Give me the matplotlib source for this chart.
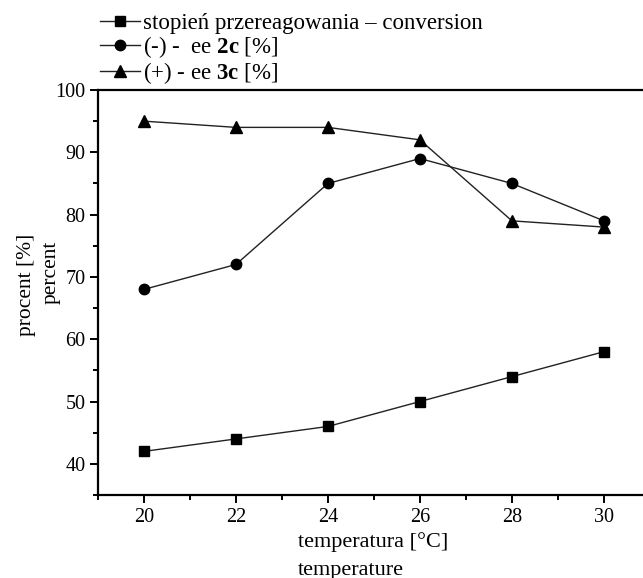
import matplotlib.pyplot as plt
from matplotlib.ticker import MultipleLocator

plt.rcParams['font.family'] = ['Liberation Serif', 'DejaVu Serif']
plt.rcParams['mathtext.fontset'] = 'custom'
plt.rcParams['mathtext.rm'] = 'Liberation Serif'
plt.rcParams['mathtext.bf'] = 'Liberation Serif:bold'

temperature = [20, 22, 24, 26, 28, 30]
conversion = [42, 44, 46, 50, 54, 58]
ee_2c = [68, 72, 85, 89, 85, 79]
ee_3c = [95, 94, 94, 92, 79, 78]

labels = ['stopień przereagowania – conversion',
          r'(-) -  ee $\mathbf{2c}$ [%]',
          r'(+) - ee $\mathbf{3c}$ [%]']

fig = plt.figure(figsize=(6.43, 5.78), dpi=100)
ax = fig.add_axes([98 / 643, 1 - 495 / 578, 1 - 98 / 643, (495 - 90) / 578])

line_kw = dict(color='#222222', lw=1.0, mfc='black', mec='black')
ax.plot(temperature, conversion, marker='s', ms=6.5, label=labels[0], **line_kw)
ax.plot(temperature, ee_2c, marker='o', ms=7.5, label=labels[1], **line_kw)
ax.plot(temperature, ee_3c, marker='^', ms=8, label=labels[2], **line_kw)

ax.set_xlim(19, 30.85)
ax.set_ylim(35, 100)
ax.xaxis.set_major_locator(MultipleLocator(2))
ax.xaxis.set_minor_locator(MultipleLocator(1))
ax.yaxis.set_major_locator(MultipleLocator(10))
ax.yaxis.set_minor_locator(MultipleLocator(5))

ax.spines['right'].set_visible(False)
for s in ['left', 'bottom', 'top']:
    ax.spines[s].set_linewidth(1.6)
ax.tick_params(which='major', direction='out', length=6, width=1.4, labelsize=14.5, pad=3)
ax.tick_params(which='minor', direction='out', length=3.5, width=1.4)
ax.tick_params(top=False, right=False, which='both')

fig.text(298 / 643, 1 - 542 / 578, 'temperatura [°C]', fontsize=16, ha='left', va='center')
fig.text(298 / 643, 1 - 570 / 578, 'temperature', fontsize=16, ha='left', va='center')
fig.text(27 / 643, 1 - 285 / 578, 'procent [%]', fontsize=15.5, rotation=90, ha='center', va='center')
fig.text(51 / 643, 1 - 272 / 578, 'percent', fontsize=15.5, rotation=90, ha='center', va='center')

fig.legend(loc='upper left', bbox_to_anchor=(100 / 643, 1 - 13 / 578), frameon=False,
           fontsize=16.5, handlelength=1.75, handletextpad=0.13, labelspacing=0.0,
           borderpad=0, borderaxespad=0)

fig.savefig('out.png', dpi=100)
